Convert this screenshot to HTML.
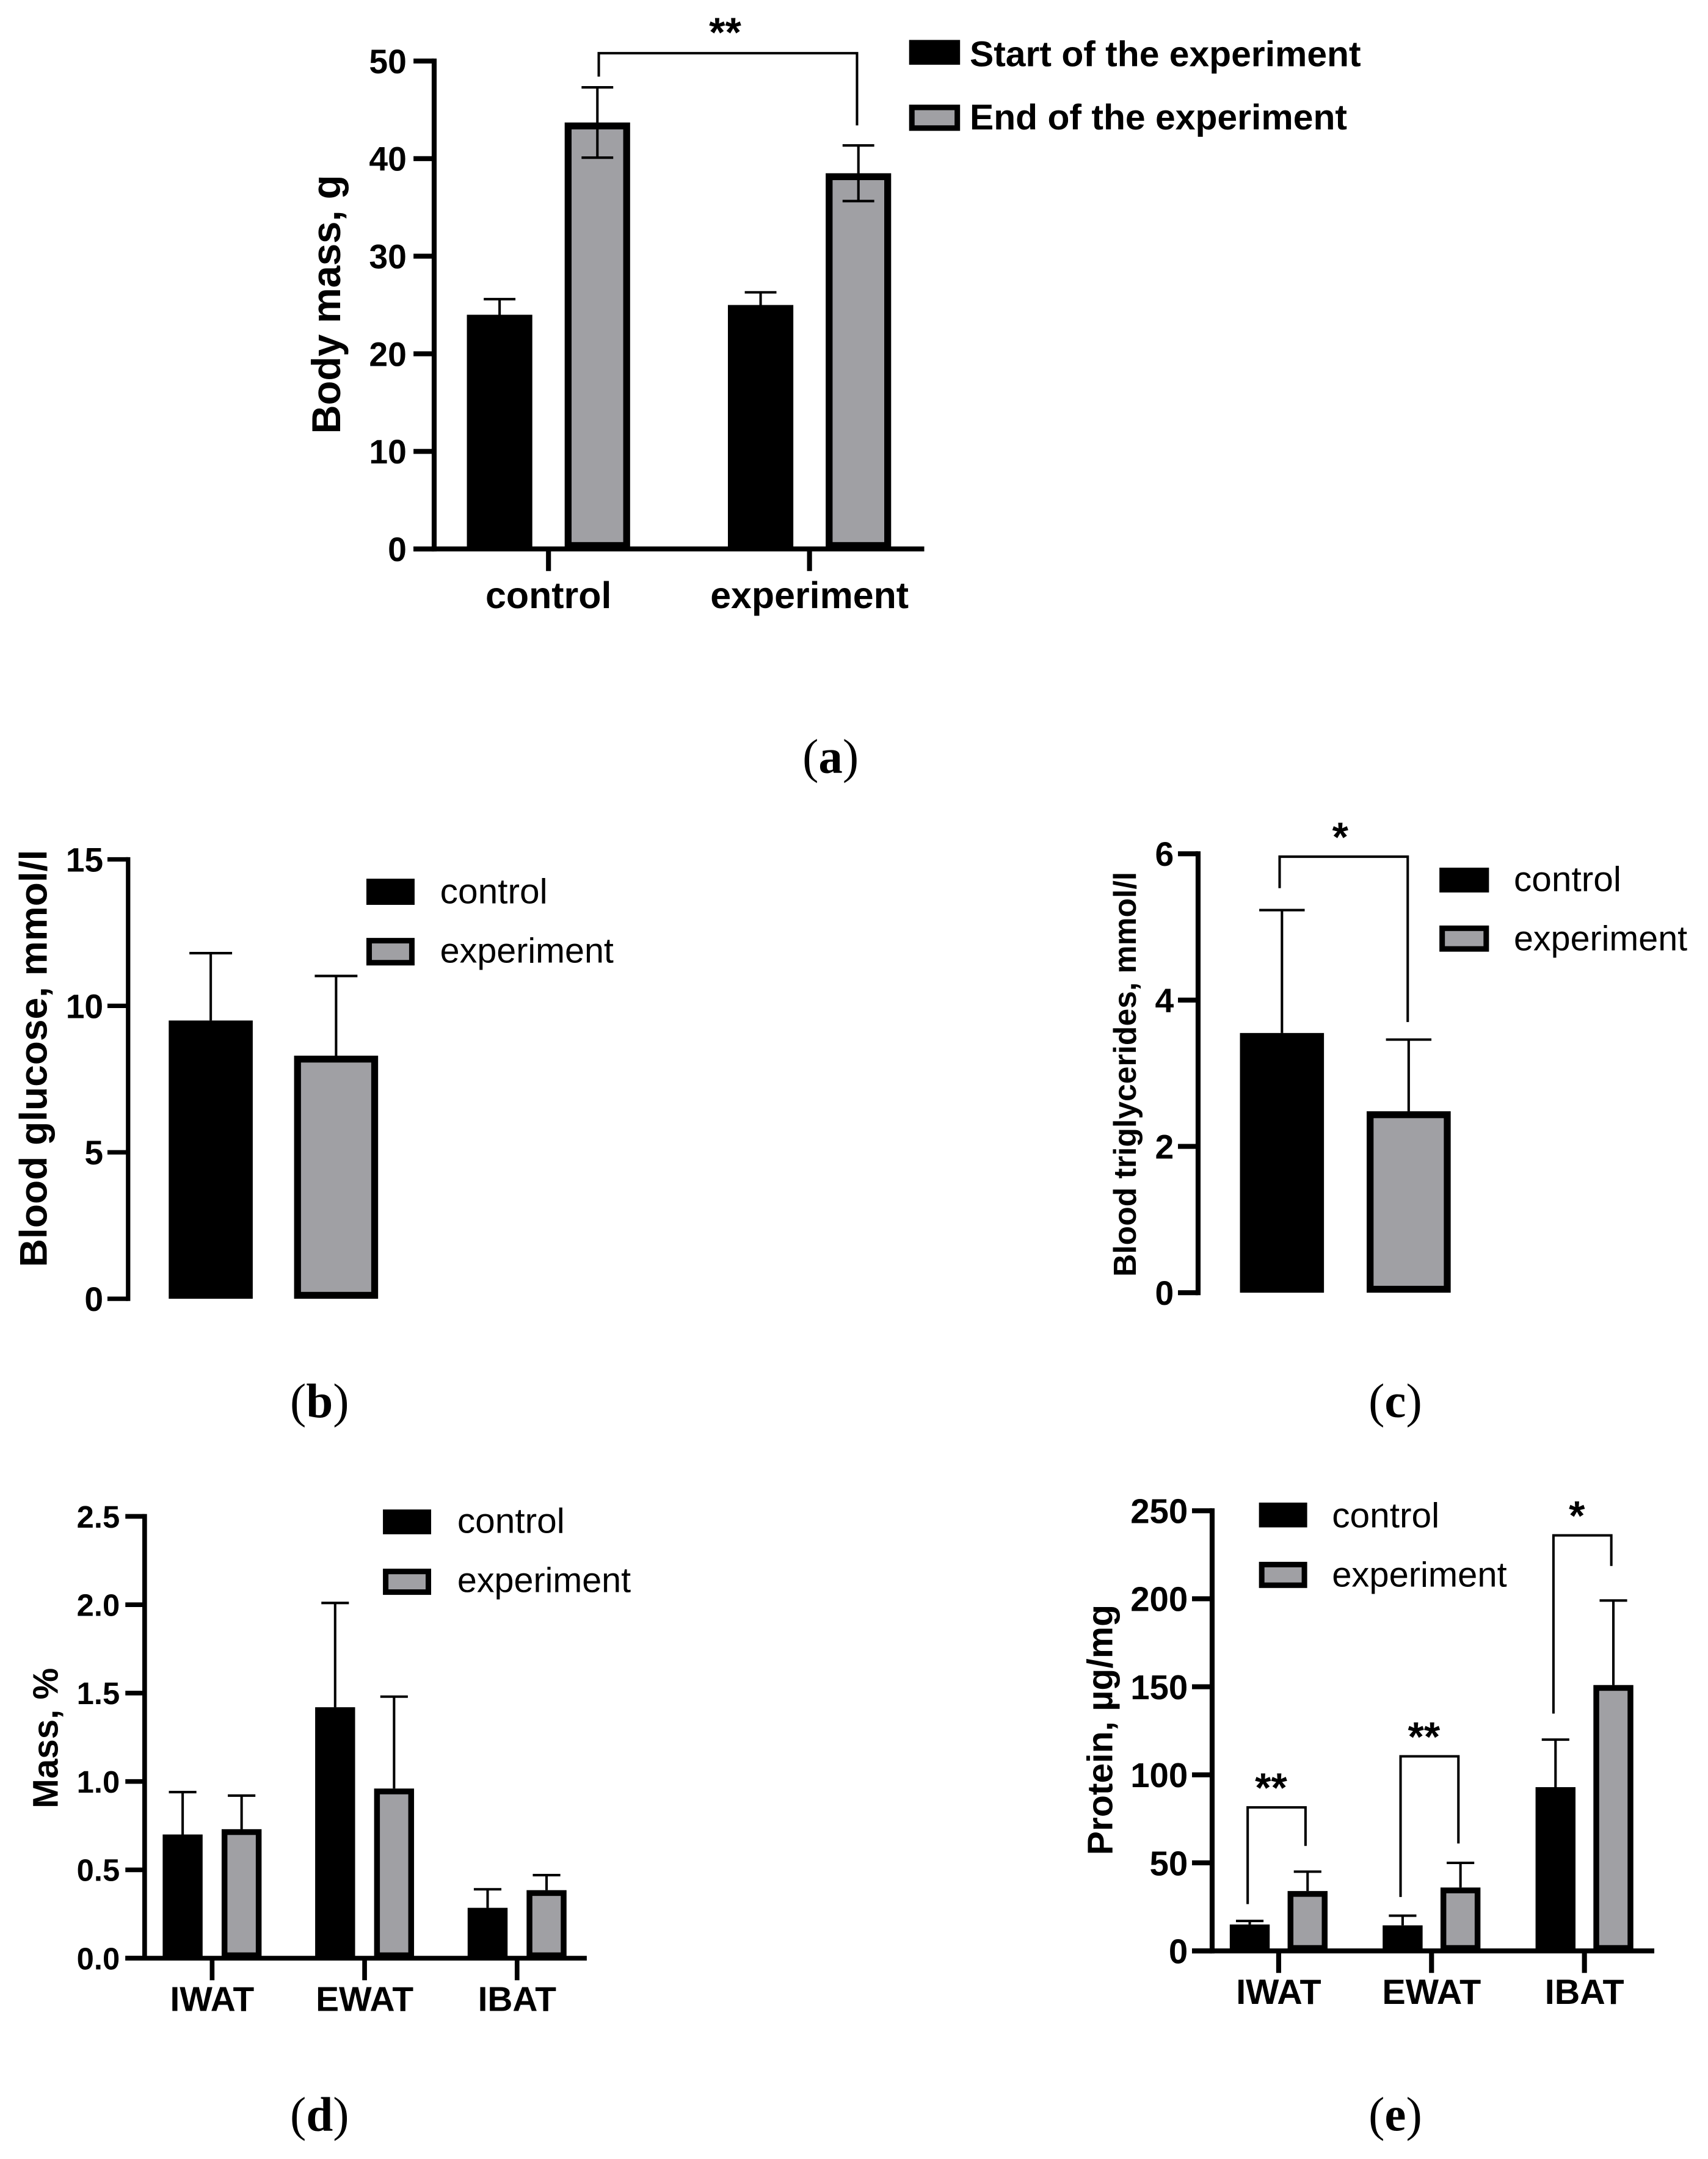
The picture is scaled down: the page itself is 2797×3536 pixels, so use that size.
<!DOCTYPE html>
<html lang="en">
<head>
<meta charset="utf-8">
<title>Body mass and adipose tissue charts</title>
<style>
html,body{margin:0;padding:0;background:#fff;}
svg{display:block;width:2797px;height:3536px;font-family:"Liberation Sans",sans-serif;fill:#000;}
.cap{font-family:"Liberation Serif",serif;font-size:35px;text-anchor:middle;}
.bold{font-weight:bold;}
</style>
</head>
<body>
<svg id="figure" viewBox="0 0 1240 1567.6" preserveAspectRatio="none" xmlns="http://www.w3.org/2000/svg">
  <rect x="0" y="0" width="1240" height="1567.6" fill="#fff"/>

  <g id="panel-a">
    <text class="bold" font-size="29" text-anchor="middle" textLength="188" lengthAdjust="spacingAndGlyphs" transform="translate(247,221) rotate(-90)">Body mass, g</text>
    <rect x="660" y="29" width="37" height="18" fill="#000"/>
    <text class="bold" font-size="26" x="704" y="48" textLength="284" lengthAdjust="spacingAndGlyphs">Start of the experiment</text>
    <rect x="662" y="78" width="33" height="15" fill="#a0a0a4" stroke="#000" stroke-width="4"/>
    <text class="bold" font-size="26" x="704" y="94" textLength="274" lengthAdjust="spacingAndGlyphs">End of the experiment</text>
    <text class="cap" x="603" y="561">(<tspan class="bold">a</tspan>)</text>
  </g>

  <g id="panel-b">
    <text class="bold" font-size="28" text-anchor="middle" textLength="303" lengthAdjust="spacingAndGlyphs" transform="translate(34,768.5) rotate(-90)">Blood glucose, mmol/l</text>
    <rect x="266" y="638" width="35" height="19" fill="#000"/>
    <text font-size="25.5" x="319.5" y="656" textLength="78" lengthAdjust="spacingAndGlyphs">control</text>
    <rect x="268" y="683" width="31" height="16" fill="#a0a0a4" stroke="#000" stroke-width="4"/>
    <text font-size="25.5" x="319.5" y="699" textLength="126" lengthAdjust="spacingAndGlyphs">experiment</text>
    <text class="cap" x="232" y="1029">(<tspan class="bold">b</tspan>)</text>
  </g>

  <g id="panel-c">
    <text class="bold" font-size="23" text-anchor="middle" textLength="294" lengthAdjust="spacingAndGlyphs" transform="translate(824.5,780) rotate(-90)">Blood triglycerides, mmol/l</text>
    <rect x="1045" y="630" width="36" height="18" fill="#000"/>
    <text font-size="25.5" x="1099" y="647" textLength="78" lengthAdjust="spacingAndGlyphs">control</text>
    <rect x="1047" y="674" width="32" height="15" fill="#a0a0a4" stroke="#000" stroke-width="4"/>
    <text font-size="25.5" x="1099" y="690" textLength="126" lengthAdjust="spacingAndGlyphs">experiment</text>
    <text class="cap" x="1013" y="1029">(<tspan class="bold">c</tspan>)</text>
  </g>

  <g id="panel-d">
    <text class="bold" font-size="25.7" text-anchor="middle" textLength="102" lengthAdjust="spacingAndGlyphs" transform="translate(42,1262) rotate(-90)">Mass, %</text>
    <rect x="278" y="1096" width="35" height="18" fill="#000"/>
    <text font-size="25.5" x="332" y="1113" textLength="78" lengthAdjust="spacingAndGlyphs">control</text>
    <rect x="280" y="1141" width="31" height="15" fill="#a0a0a4" stroke="#000" stroke-width="4"/>
    <text font-size="25.5" x="332" y="1156" textLength="126" lengthAdjust="spacingAndGlyphs">experiment</text>
    <text class="cap" x="232" y="1547">(<tspan class="bold">d</tspan>)</text>
  </g>

  <g id="panel-e">
    <text class="bold" font-size="26" text-anchor="middle" textLength="182" lengthAdjust="spacingAndGlyphs" transform="translate(807.5,1256) rotate(-90)">Protein, µg/mg</text>
    <rect x="914" y="1091" width="35" height="18" fill="#000"/>
    <text font-size="25.5" x="967" y="1109" textLength="78" lengthAdjust="spacingAndGlyphs">control</text>
    <rect x="916" y="1136" width="31" height="15" fill="#a0a0a4" stroke="#000" stroke-width="4"/>
    <text font-size="25.5" x="967" y="1152" textLength="127" lengthAdjust="spacingAndGlyphs">experiment</text>
    <text class="cap" x="1013" y="1547">(<tspan class="bold">e</tspan>)</text>
  </g>
</svg>

<script>
// ---- Panel a: body mass ----
const aCategories = ['control', 'experiment'];
const aStart = [24, 25];
const aEnd = [43.7, 38.5];
const aStartErr = [1.6, 1.3];
const aEndErr = [3.6, 2.85];
const aTicks = ['0', '10', '20', '30', '40', '50'];
const aBracketTop = [50.8];
const aBracketLeft = [48.4];
const aBracketRight = [43.4];
const aBracketLabel = ['**'];

// ---- Panel b: blood glucose ----
const bCategories = ['glucose'];
const bControl = [9.5];
const bExperiment = [8.3];
const bControlErr = [2.3];
const bExperimentErr = [2.72];
const bTicks = ['0', '5', '10', '15'];

// ---- Panel c: blood triglycerides ----
const cCategories = ['triglycerides'];
const cControl = [3.55];
const cExperiment = [2.48];
const cControlErr = [1.68];
const cExperimentErr = [0.98];
const cTicks = ['0', '2', '4', '6'];
const cBracketTop = [5.96];
const cBracketLeft = [5.53];
const cBracketRight = [3.7];
const cBracketLabel = ['*'];

// ---- Panel d: fat depot mass ----
const dCategories = ['IWAT', 'EWAT', 'IBAT'];
const dControl = [0.70, 1.42, 0.285];
const dExperiment = [0.73, 0.96, 0.385];
const dControlErr = [0.24, 0.59, 0.105];
const dExperimentErr = [0.19, 0.52, 0.085];
const dTicks = ['0.0', '0.5', '1.0', '1.5', '2.0', '2.5'];

// ---- Panel e: protein ----
const eCategories = ['IWAT', 'EWAT', 'IBAT'];
const eControl = [15, 14.5, 93];
const eExperiment = [34, 36, 151];
const eControlErr = [2, 5.5, 27];
const eExperimentErr = [11, 14, 48];
const eTicks = ['0', '50', '100', '150', '200', '250'];
const eBracketTop = [81.5, 110.5, 236];
const eBracketLeft = [26.6, 30.6, 134.8];
const eBracketRight = [59.6, 61, 218.6];
const eBracketLabel = ['**', '**', '*'];

const SVG_NS = 'http://www.w3.org/2000/svg';
const GRAY = '#a0a0a4';

function mk(parent, tag, attrs, text) {
  const el = document.createElementNS(SVG_NS, tag);
  for (const k in attrs) el.setAttribute(k, attrs[k]);
  if (text !== undefined) el.textContent = text;
  parent.appendChild(el);
  return el;
}

function drawPanel(cfg) {
  const g = document.getElementById(cfg.id);
  const yScale = v => cfg.y0 - (v - cfg.min) / (cfg.max - cfg.min) * (cfg.y0 - cfg.yTop);
  const xGroup = i => cfg.x0 + i * cfg.step;
  const xBar = (i, s) => xGroup(i) + (s === 0 ? -cfg.offset : cfg.offset);
  const series = [
    { name: 'black', values: cfg.s0, errs: cfg.e0 },
    { name: 'gray', values: cfg.s1, errs: cfg.e1 }
  ];

  // bars
  series.forEach((sr, s) => {
    sr.values.forEach((v, i) => {
      const cx = xBar(i, s);
      const top = yScale(v);
      let bar;
      if (s === 0) {
        bar = mk(g, 'rect', { x: cx - cfg.barW / 2, y: top, width: cfg.barW, height: cfg.y0 - top, fill: '#000' });
      } else {
        bar = mk(g, 'rect', { x: cx - cfg.barW / 2 + cfg.barSW / 2, y: top + cfg.barSW / 2, width: cfg.barW - cfg.barSW, height: cfg.y0 - top - cfg.barSW, fill: GRAY, stroke: '#000', 'stroke-width': cfg.barSW });
      }
      
      
    });
  });

  // error bars
  series.forEach((sr, s) => {
    sr.errs.forEach((e, i) => {
      const cx = xBar(i, s);
      const hi = yScale(sr.values[i] + e);
      const lo = cfg.twoSided ? yScale(sr.values[i] - e) : yScale(sr.values[i]);
      const stem = mk(g, 'line', { x1: cx, x2: cx, y1: lo, y2: hi, stroke: '#000', 'stroke-width': cfg.errSW });
      
      
      const cap = mk(g, 'line', { x1: cx - cfg.capW, x2: cx + cfg.capW, y1: hi, y2: hi, stroke: '#000', 'stroke-width': cfg.errSW });
      
      
      if (cfg.twoSided) {
        const capLo = mk(g, 'line', { x1: cx - cfg.capW, x2: cx + cfg.capW, y1: lo, y2: lo, stroke: '#000', 'stroke-width': cfg.errSW });
        
        
      }
    });
  });

  // y axis
  const yLine = mk(g, 'line', { x1: cfg.axisX, x2: cfg.axisX, y1: cfg.yTop - cfg.axisSW / 2, y2: cfg.y0 + cfg.axisSW / 2, stroke: '#000', 'stroke-width': cfg.axisSW });
  
  
  cfg.ticks.forEach(t => {
    const y = yScale(parseFloat(t));
    const tick = mk(g, 'line', { x1: cfg.axisX - cfg.tickLen, x2: cfg.axisX, y1: y, y2: y, stroke: '#000', 'stroke-width': cfg.axisSW });
    
    
    const label = mk(g, 'text', { x: cfg.axisX - cfg.tickLen - cfg.tickGap, y: y + cfg.tickFont * 0.36, 'font-size': cfg.tickFont, 'font-weight': 'bold', 'text-anchor': 'end' }, t);
    
    
  });

  // x axis
  if (cfg.xAxis) {
    const xLine = mk(g, 'line', { x1: cfg.axisX - cfg.tickLen, x2: cfg.xEnd, y1: cfg.y0, y2: cfg.y0, stroke: '#000', 'stroke-width': cfg.axisSW });
    
    
    cfg.cats.forEach((c, i) => {
      const x = xGroup(i);
      const tick = mk(g, 'line', { x1: x, x2: x, y1: cfg.y0, y2: cfg.y0 + 16, stroke: '#000', 'stroke-width': cfg.axisSW });
      
      
      const label = mk(g, 'text', { x: x, y: cfg.xLabelY, 'font-size': cfg.xFont, 'font-weight': 'bold', 'text-anchor': 'middle' }, c);
      
      
    });
  }

  // significance brackets
  (cfg.bracket ? cfg.bracket.top : []).forEach((topV, k) => {
    const group = cfg.bracket.groups[k];
    const xl = xBar(group[0], group[1]) + cfg.bracket.leftDx;
    const xr = xBar(group[2], group[3]) + cfg.bracket.rightDx;
    const yt = yScale(topV);
    const yl = yScale(cfg.bracket.left[k]);
    const yr = yScale(cfg.bracket.right[k]);
    const path = mk(g, 'polyline', { points: [xl, yl, xl, yt, xr, yt, xr, yr].join(' '), fill: 'none', stroke: '#000', 'stroke-width': 1.8 });
    
    
    const star = mk(g, 'text', { x: (xl + xr) / 2 + cfg.bracket.starDx, y: yt - cfg.bracket.starGap, 'font-size': 30, 'font-weight': 'bold', 'text-anchor': 'middle' }, cfg.bracket.label[k]);
    
    
  });
}

drawPanel({
  id: 'panel-a', cats: aCategories, s0: aStart, s1: aEnd, e0: aStartErr, e1: aEndErr, ticks: aTicks,
  min: 0, max: 50, y0: 398.6, yTop: 44.3, axisX: 315.2, xEnd: 671, tickLen: 15, tickGap: 5, axisSW: 3.6, tickFont: 24.5,
  x0: 398.2, step: 189.5, offset: 35.5, barW: 47.5, barSW: 5, errSW: 1.8, capW: 11.5, twoSided: true,
  xAxis: true, xLabelY: 441.5, xFont: 27,
  bracket: { top: aBracketTop, left: aBracketLeft, right: aBracketRight, label: aBracketLabel, groups: [[0, 1, 1, 1]], leftDx: 1, rightDx: -1, starDx: -2, starGap: 5 }
});
drawPanel({
  id: 'panel-b', cats: bCategories, s0: bControl, s1: bExperiment, e0: bControlErr, e1: bExperimentErr, ticks: bTicks,
  min: 0, max: 15, y0: 943, yTop: 624, axisX: 93, tickLen: 15, tickGap: 3, axisSW: 3.2, tickFont: 24.5,
  x0: 198.5, step: 0, offset: 45.5, barW: 61, barSW: 5, errSW: 1.8, capW: 15.5, twoSided: false, xAxis: false
});
drawPanel({
  id: 'panel-c', cats: cCategories, s0: cControl, s1: cExperiment, e0: cControlErr, e1: cExperimentErr, ticks: cTicks,
  min: 0, max: 6, y0: 938.6, yTop: 619.9, axisX: 869.8, tickLen: 14.6, tickGap: 3, axisSW: 3.6, tickFont: 24.5,
  x0: 976.7, step: 0, offset: 46, barW: 61, barSW: 5, errSW: 1.8, capW: 16.5, twoSided: false, xAxis: false,
  bracket: { top: cBracketTop, left: cBracketLeft, right: cBracketRight, label: cBracketLabel, groups: [[0, 0, 0, 1]], leftDx: -1.7, rightDx: -0.7, starDx: -2.5, starGap: 4 }
});
drawPanel({
  id: 'panel-d', cats: dCategories, s0: dControl, s1: dExperiment, e0: dControlErr, e1: dExperimentErr, ticks: dTicks,
  min: 0, max: 2.5, y0: 1421.8, yTop: 1101, axisX: 105, xEnd: 426, tickLen: 14, tickGap: 4, axisSW: 3.4, tickFont: 22.5,
  x0: 154, step: 110.7, offset: 21.4, barW: 29, barSW: 4.2, errSW: 1.8, capW: 10, twoSided: false,
  xAxis: true, xLabelY: 1460, xFont: 25.2
});
drawPanel({
  id: 'panel-e', cats: eCategories, s0: eControl, s1: eExperiment, e0: eControlErr, e1: eExperimentErr, ticks: eTicks,
  min: 0, max: 250, y0: 1416.5, yTop: 1096.9, axisX: 880, xEnd: 1201, tickLen: 14.6, tickGap: 3, axisSW: 3.6, tickFont: 25,
  x0: 928.3, step: 111, offset: 21, barW: 29, barSW: 4.2, errSW: 1.8, capW: 10, twoSided: false,
  xAxis: true, xLabelY: 1455, xFont: 25.5,
  bracket: { top: eBracketTop, left: eBracketLeft, right: eBracketRight, label: eBracketLabel, groups: [[0, 0, 0, 1], [1, 0, 1, 1], [2, 0, 2, 1]], leftDx: -1.5, rightDx: -1.5, starDx: -4, starGap: 4 }
});
</script>
</body>
</html>
